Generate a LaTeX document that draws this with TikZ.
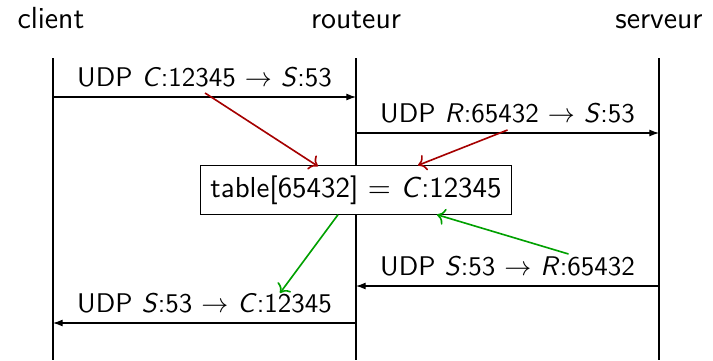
\documentclass[tikz,border=0pt]{standalone}
\usepackage{fontspec}
\usetikzlibrary{arrows.meta,calc}
\definecolor{mapred}{RGB}{165,0,0}
\definecolor{mapgreen}{RGB}{0,160,0}
\begin{document}
\begin{tikzpicture}[x=0.3704pt,y=0.3704pt,font=\sffamily,
  lifeline/.style={line width=0.4pt},
  party/.style={anchor=base,font=\sffamily\fontsize{11.3}{13.5}\selectfont},
  msg/.style={line width=0.4pt,-{Latex[length=3.6pt,width=2.6pt]}},
  lbl/.style={inner sep=3.33pt},
  lookup/.style={semithick,->,mapred},
  reply/.style={semithick,->,mapgreen},
  tablebox/.style={draw,line width=0.4pt,inner sep=3.6pt,
    font=\sffamily\fontsize{10.7}{13}\selectfont}]
\useasboundingbox (0,0) rectangle (713,360);

% participants
\node[party] (client) at (51,332) {client};
\node[party] (routeur) at (356,332) {routeur};
\node[party] (serveur) at (659,332) {serveur};

\coordinate (ct) at (53,302);  \coordinate (cb) at (53,0);
\coordinate (rt) at (356,302); \coordinate (rb) at (356,0);
\coordinate (st) at (659,302); \coordinate (sb) at (659,0);
\draw[lifeline] (ct) -- (cb);
\draw[lifeline] (rt) -- (rb);
\draw[lifeline] (st) -- (sb);

% message end points on the lifelines
\coordinate (c1) at (53,263);  \coordinate (r1) at (356,263);
\coordinate (r2) at (356,227); \coordinate (s2) at (659,227);
\coordinate (s3) at (659,74);  \coordinate (r3) at (356,74);
\coordinate (r4) at (356,37);  \coordinate (c4) at (53,37);

\draw[msg] (c1) -- (r1) node[midway,above,lbl] (m1) {UDP \textit{C}:12345 $\rightarrow$ \textit{S}:53};
\draw[msg] (r2) -- (s2) node[midway,above,lbl] (m2) {UDP \textit{R}:65432 $\rightarrow$ \textit{S}:53};
\draw[msg] (s3) -- (r3) node[midway,above,lbl] (m3) {UDP \textit{S}:53 $\rightarrow$ \textit{R}:65432};
\draw[msg] (r4) -- (c4) node[midway,above,lbl] (m4) {UDP \textit{S}:53 $\rightarrow$ \textit{C}:12345};

% translation table of the router
\node[tablebox,fill=white] (tab) at (356,170) {table[65432] $=$ \textit{C}:12345};

\draw[lookup] ($(m1.south)+(0.5,4)$) -- ($(tab.north)+(-38,-1)$);
\draw[lookup] ($(m2.south)+(0,3)$) -- ($(tab.north)+(62,0)$);
\draw[reply] ($(m3.south)+(61,32)$) -- ($(tab.south)+(81,0)$);
\draw[reply] ($(tab.south)+(-18,0)$) -- ($(m4.south)+(75.5,30)$);
\end{tikzpicture}
\end{document}
